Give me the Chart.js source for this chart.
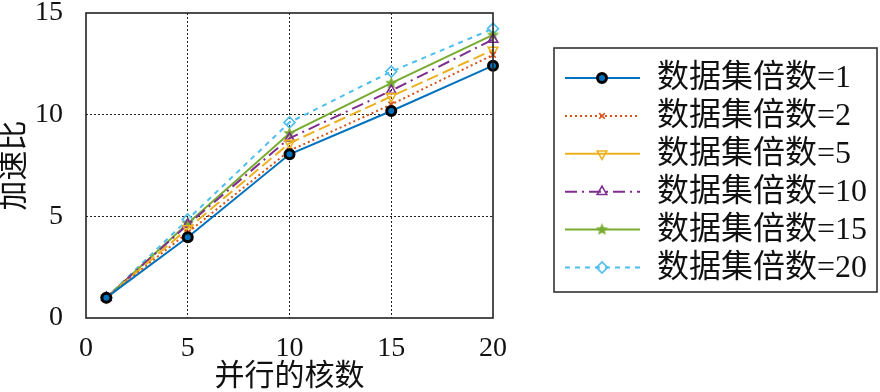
<!DOCTYPE html>
<html>
<head>
<meta charset="utf-8">
<script src="https://cdn.jsdelivr.net/npm/chart.js@4/dist/chart.umd.min.js"></script>
<style>
    html, body { margin: 0; padding: 0; background: #fff; }
    #wrap { width: 880px; height: 392px; position: relative; }
</style>
</head>
<body>
<div id="wrap"><canvas id="speedupChart"></canvas></div>
<script>
// data
const cores = [1, 5, 10, 15, 20];
const xTicks = [0, 5, 10, 15, 20];
const yTicks = [0, 5, 10, 15];

const times1 = [1, 3.97, 8.05, 10.18, 12.41];
const times2 = [1, 4.2, 8.23, 10.5, 12.94];
const times5 = [1, 4.4, 8.6, 10.9, 13.18];
const times10 = [1, 4.6, 8.84, 11.18, 13.7];
const times15 = [1, 4.65, 9.08, 11.55, 13.92];
const times20 = [1, 4.85, 9.62, 12.12, 14.23];

const serif = '"Liberation Serif", "Noto Sans CJK SC", serif';

// filled star marker
function makeStar(color, size) {
    const c = document.createElement('canvas');
    c.width = size; c.height = size;
    const g = c.getContext('2d');
    const cx = size / 2, cy = size / 2, R = size / 2, r = R * 0.45;
    g.beginPath();
    for (let i = 0; i < 10; i++) {
        const rad = i % 2 ? r : R;
        const a = -Math.PI / 2 + i * Math.PI / 5;
        g.lineTo(cx + rad * Math.cos(a), cy + rad * Math.sin(a));
    }
    g.closePath();
    g.fillStyle = color;
    g.fill();
    return c;
}
const star = makeStar('#77AC30', 13);

function pts(arr) {
    return arr.map((v, i) => ({ x: cores[i], y: v }));
}

const datasets = [
    {
        label: '数据集倍数=1', data: pts(times1),
        borderColor: '#0072BD', borderWidth: 2, borderDash: [],
        pointStyle: 'circle', pointRadius: 4.5, pointBorderWidth: 3,
        pointBorderColor: '#000', pointBackgroundColor: '#0072BD'
    },
    {
        label: '数据集倍数=2', data: pts(times2),
        borderColor: '#D95319', borderWidth: 2, borderDash: [2, 3],
        pointStyle: 'crossRot', pointRadius: 4, pointBorderWidth: 1.6,
        pointBorderColor: '#D95319', pointBackgroundColor: '#D95319'
    },
    {
        label: '数据集倍数=5', data: pts(times5),
        borderColor: '#EDB120', borderWidth: 2, borderDash: [12, 5],
        pointStyle: 'triangle', pointRotation: 180, pointRadius: 5.5, pointBorderWidth: 1.6,
        pointBorderColor: '#EDB120', pointBackgroundColor: 'rgba(255,255,255,0)'
    },
    {
        label: '数据集倍数=10', data: pts(times10),
        borderColor: '#7E2F8E', borderWidth: 2, borderDash: [12, 5, 2, 5],
        pointStyle: 'triangle', pointRadius: 5.5, pointBorderWidth: 1.6,
        pointBorderColor: '#7E2F8E', pointBackgroundColor: 'rgba(255,255,255,0)'
    },
    {
        label: '数据集倍数=15', data: pts(times15),
        borderColor: '#77AC30', borderWidth: 2, borderDash: [],
        pointStyle: star, pointRadius: 6,
        pointBorderColor: '#77AC30', pointBackgroundColor: '#77AC30'
    },
    {
        label: '数据集倍数=20', data: pts(times20),
        borderColor: '#4DBEEE', borderWidth: 2, borderDash: [5, 5],
        pointStyle: 'rectRot', pointRadius: 5.5, pointBorderWidth: 1.6,
        pointBorderColor: '#4DBEEE', pointBackgroundColor: 'rgba(255,255,255,0)'
    }
];
datasets.forEach(d => { d.fill = false; d.tension = 0; d.clip = false; });

// box round the plot area
const frame = {
    id: 'frame',
    afterDatasetsDraw(chart) {
        const a = chart.chartArea, ctx = chart.ctx;
        ctx.save();
        ctx.strokeStyle = '#222';
        ctx.lineWidth = 1.6;
        ctx.strokeRect(a.left, a.top, a.right - a.left, a.bottom - a.top);
        ctx.restore();
    }
};

// legend with line sample + marker, like the original
const lineLegend = {
    id: 'lineLegend',
    afterDraw(chart) {
        const ctx = chart.ctx;
        const bx = 554, by = 48, bw = 323, bh = 244;
        ctx.save();
        ctx.fillStyle = '#fff';
        ctx.fillRect(bx, by, bw, bh);
        ctx.strokeStyle = '#333';
        ctx.lineWidth = 1.6;
        ctx.strokeRect(bx, by, bw, bh);
        chart.data.datasets.forEach((ds, i) => {
            const y = 78 + i * 37.9;
            ctx.save();
            ctx.strokeStyle = ds.borderColor;
            ctx.lineWidth = ds.borderWidth;
            ctx.setLineDash(i === 2 ? [] : ds.borderDash);
            ctx.beginPath();
            ctx.moveTo(565, y);
            ctx.lineTo(640, y);
            ctx.stroke();
            ctx.restore();
            ctx.save();
            ctx.strokeStyle = ds.pointBorderColor;
            ctx.fillStyle = ds.pointBackgroundColor;
            ctx.lineWidth = ds.pointBorderWidth || 1;
            Chart.helpers.drawPoint(ctx, {
                pointStyle: ds.pointStyle,
                rotation: ds.pointRotation || 0,
                radius: ds.pointRadius,
                borderWidth: ds.pointBorderWidth || 1
            }, 602, y);
            ctx.restore();
            ctx.fillStyle = '#111';
            ctx.font = '32px ' + serif;
            ctx.textAlign = 'left';
            ctx.textBaseline = 'middle';
            ctx.fillText(ds.label, 657, y + 1);
        });
        ctx.restore();
    }
};

const config = {
    type: 'line',
    data: { datasets: datasets },
    options: {
        responsive: true,
        maintainAspectRatio: false,
        animation: false,
        layout: { padding: { top: 13, right: 387, bottom: 0, left: 0 } },
        plugins: {
            legend: { display: false },
            tooltip: { enabled: false }
        },
        scales: {
            x: {
                type: 'linear',
                min: 0, max: 20,
                afterBuildTicks: s => { s.ticks = xTicks.map(v => ({ value: v })); },
                afterFit: s => { s.height = 74; s.paddingLeft = 0; s.paddingRight = 0; },
                ticks: { color: '#111', padding: 14, font: { family: serif, size: 28 } },
                grid: {
                    drawTicks: false,
                    color: c => (c.tick && (c.tick.value === 0 || c.tick.value === 20)) ? 'rgba(0,0,0,0)' : '#222',
                    lineWidth: 1
                },
                border: { display: false, dash: [2, 2] },
                title: {
                    display: true, text: '并行的核数', color: '#111',
                    font: { family: serif, size: 30, lineHeight: 1.0 },
                    padding: { top: 0, bottom: 0 }
                }
            },
            y: {
                min: 0, max: 15,
                afterBuildTicks: s => { s.ticks = yTicks.map(v => ({ value: v })); },
                afterFit: s => { s.width = 86; s.paddingTop = 0; s.paddingBottom = 0; },
                ticks: { color: '#111', padding: 23, font: { family: serif, size: 28 } },
                grid: {
                    drawTicks: false,
                    color: c => (c.tick && (c.tick.value === 0 || c.tick.value === 15)) ? 'rgba(0,0,0,0)' : '#222',
                    lineWidth: 1
                },
                border: { display: false, dash: [2, 2] },
                title: {
                    display: true, text: '加速比', color: '#111',
                    font: { family: serif, size: 30, lineHeight: 1.0 },
                    padding: { top: 0, bottom: 0 }
                }
            }
        }
    },
    plugins: [frame, lineLegend]
};

const ctx = document.getElementById('speedupChart').getContext('2d');
new Chart(ctx, config);
</script>
</body>
</html>
